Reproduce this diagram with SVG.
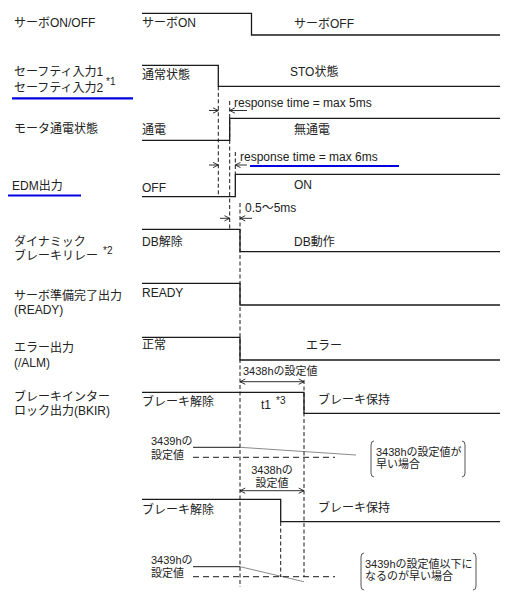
<svg xmlns="http://www.w3.org/2000/svg" width="522" height="594" viewBox="0 0 522 594">
<defs>
<style>
text{font-family:"Liberation Sans","Noto Sans CJK JP",sans-serif;fill:#222}
.lb{font-size:12px}
.sm{font-size:11px}
.sup{font-size:10px}
.sig{fill:none;stroke:#1a1a1a;stroke-width:1.3}
.dash{fill:none;stroke:#1a1a1a;stroke-width:1;stroke-dasharray:4 2.5}
.hd{fill:none;stroke:#1a1a1a;stroke-width:1;stroke-dasharray:6 4}
.ar{fill:none;stroke:#1a1a1a;stroke-width:0.9}
.grey{fill:none;stroke:#8a8a8a;stroke-width:1}
.blue{fill:none;stroke:#0000e0;stroke-width:2.2}
.br{fill:none;stroke:#555;stroke-width:1}
</style>
<marker id="ah" viewBox="0 0 8 8" refX="7" refY="4" markerWidth="7" markerHeight="7" markerUnits="userSpaceOnUse" orient="auto-start-reverse"><path d="M1,1 L7,4 L1,7" fill="none" stroke="#1a1a1a" stroke-width="1"/></marker>
</defs>

<g id="labels">
<text class="lb" x="14" y="27">サーボON/OFF</text>
<text class="lb" x="14" y="76">セーフティ入力1</text>
<text class="lb" x="14" y="92">セーフティ入力2</text>
<text class="sup" x="106" y="85">*1</text>
<line class="blue" x1="12" y1="98.3" x2="133" y2="98.3"/>
<text class="lb" x="14" y="133">モータ通電状態</text>
<text class="lb" x="12" y="190">EDM出力</text>
<line class="blue" x1="8" y1="195.5" x2="81" y2="195.5"/>
<text class="lb" x="14" y="246">ダイナミック</text>
<text class="lb" x="14" y="260">ブレーキリレー</text>
<text class="sup" x="103" y="254">*2</text>
<text class="lb" x="14" y="300">サーボ準備完了出力</text>
<text class="lb" x="14" y="314">(READY)</text>
<text class="lb" x="14" y="352">エラー出力</text>
<text class="lb" x="14" y="367">(/ALM)</text>
<text class="lb" x="14" y="401">ブレーキインター</text>
<text class="lb" x="14" y="415">ロック出力(BKIR)</text>
</g>

<g id="servo">
<path class="sig" d="M142,13.3 H251.5 V35 H500"/>
<text class="lb" x="142" y="27">サーボON</text>
<text class="lb" x="294" y="28">サーボOFF</text>
</g>

<g id="safety">
<path class="sig" d="M142,65.3 H218.3 V86.3 H500"/>
<text class="lb" x="142" y="79">通常状態</text>
<text class="lb" x="290" y="76">STO状態</text>
</g>

<g id="motor">
<path class="sig" d="M142,140.3 H229.7 V118.3 H500"/>
<text class="lb" x="142" y="134">通電</text>
<text class="lb" x="294" y="134">無通電</text>
</g>

<g id="edm">
<path class="sig" d="M142,196.7 H235.3 V174.3 H500"/>
<text class="lb" x="142" y="192">OFF</text>
<text class="lb" x="294" y="189">ON</text>
</g>

<g id="db">
<path class="sig" d="M142,229.3 H240 V251.7 H500"/>
<text class="lb" x="142" y="246">DB解除</text>
<text class="lb" x="294" y="246">DB動作</text>
</g>

<g id="ready">
<path class="sig" d="M142,283.3 H240 V305 H500"/>
<text class="lb" x="142" y="297">READY</text>
</g>

<g id="alm">
<path class="sig" d="M142,337.3 H240 V360 H500"/>
<text class="lb" x="142" y="349">正常</text>
<text class="lb" x="306" y="350">エラー</text>
</g>

<g id="bkir1">
<path class="sig" d="M142,392.3 H304 V413.3 H500"/>
<text class="lb" x="142" y="406">ブレーキ解除</text>
<text class="lb" x="261" y="409">t1</text>
<text class="sup" x="276" y="404">*3</text>
<text class="lb" x="318" y="404">ブレーキ保持</text>
<text class="sm" x="243" y="375">3438hの設定値</text>
<text class="sm" x="151" y="445">3439hの</text>
<text class="sm" x="151" y="459">設定値</text>
<path class="sig" d="M193,447.3 H240" style="stroke-width:1"/>
<path class="grey" d="M240,447.3 L356,455"/>
<path class="hd" d="M193,457.3 H335"/>
</g>

<g id="note1">
<path class="br" d="M374,441 Q371,441 371,445 V473 Q371,477 374,477"/>
<path class="br" d="M462,441 Q465,441 465,445 V473 Q465,477 462,477"/>
<text class="sm" x="376" y="455.5">3438hの設定値が</text>
<text class="sm" x="376" y="467.5">早い場合</text>
</g>

<g id="bkir2">
<path class="sig" d="M142,499.3 H280.7 V521.7 H500"/>
<text class="lb" x="142" y="513.5">ブレーキ解除</text>
<text class="lb" x="318" y="511.5">ブレーキ保持</text>
<text class="sm" x="272" y="474" text-anchor="middle">3438hの</text>
<text class="sm" x="272" y="487" text-anchor="middle">設定値</text>
<text class="sm" x="151" y="564">3439hの</text>
<text class="sm" x="151" y="577">設定値</text>
<path class="sig" d="M193,566.7 H240" style="stroke-width:1"/>
<path class="grey" d="M240,566.7 L304,581.7"/>
<path class="hd" d="M193,576.7 H335"/>
</g>

<g id="note2">
<path class="br" d="M364,553 Q361,553 361,557 V586 Q361,590 364,590"/>
<path class="br" d="M473,553 Q476,553 476,557 V586 Q476,590 473,590"/>
<text class="sm" x="365" y="568">3439hの設定値以下に</text>
<text class="sm" x="365" y="580">なるのが早い場合</text>
</g>

<g id="connectors">
<path class="dash" d="M218.3,86.3 V197"/>
<path class="dash" d="M229.7,101 V229"/>
<path class="dash" d="M235.3,152 V174"/>
<path class="dash" d="M240,203 V587"/>
<path class="dash" d="M304,380 V577"/>
<path class="dash" d="M280.7,522 V577"/>
<line class="ar" x1="209" y1="110.5" x2="218.3" y2="110.5" marker-end="url(#ah)"/>
<line class="ar" x1="247" y1="110.5" x2="229.7" y2="110.5" marker-end="url(#ah)"/>
<text class="lb" x="234" y="107">response time = max 5ms</text>
<line class="ar" x1="209" y1="165" x2="218.3" y2="165" marker-end="url(#ah)"/>
<line class="ar" x1="247" y1="165" x2="235.3" y2="165" marker-end="url(#ah)"/>
<text class="lb" x="240" y="161">response time = max 6ms</text>
<line class="blue" x1="250" y1="166" x2="399" y2="166"/>
<line class="ar" x1="220" y1="218.3" x2="229.7" y2="218.3" marker-end="url(#ah)"/>
<line class="ar" x1="252" y1="218.3" x2="240" y2="218.3" marker-end="url(#ah)"/>
<text class="lb" x="245" y="212">0.5〜5ms</text>
<line class="ar" x1="240" y1="381.7" x2="304" y2="381.7" marker-start="url(#ah)" marker-end="url(#ah)"/>
<line class="ar" x1="240" y1="490.7" x2="304" y2="490.7" marker-start="url(#ah)" marker-end="url(#ah)"/>
</g>
</svg>
